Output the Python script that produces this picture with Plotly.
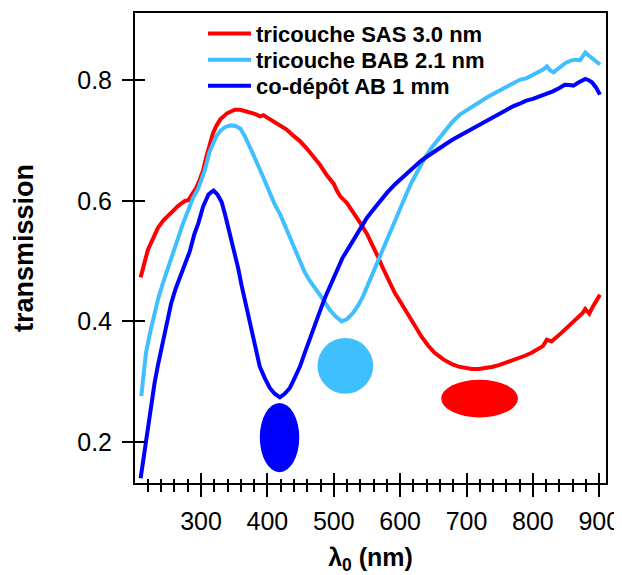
import plotly.graph_objects as go

# ---------------- data ----------------
series_names = ["tricouche SAS 3.0 nm", "tricouche BAB 2.1 nm", "co-dépôt AB 1 mm"]

nm_sas = [209, 215, 220, 228, 235, 243, 251, 258, 266, 271, 276, 281, 288, 293, 298, 303, 308, 313,
          318, 323, 329, 334, 339, 345, 351, 359, 366, 374, 381, 389, 394, 401, 409, 419, 429, 439,
          449, 459, 469, 479, 489, 500, 505, 510, 520, 530, 540, 550, 560, 567, 575, 584, 592, 600,
          607, 617, 625, 632, 642, 652, 665, 678, 688, 698, 708, 718, 728, 738, 750, 763, 775, 788,
          798, 808, 815, 821, 828, 838, 848, 858, 868, 875, 879, 885, 890, 894, 901]
t_sas = [0.473, 0.500, 0.519, 0.538, 0.555, 0.567, 0.576, 0.582, 0.592, 0.596, 0.600, 0.601, 0.613,
         0.622, 0.635, 0.650, 0.673, 0.693, 0.712, 0.724, 0.735, 0.740, 0.745, 0.748, 0.751, 0.751,
         0.749, 0.747, 0.744, 0.740, 0.742, 0.737, 0.732, 0.725, 0.718, 0.708, 0.699, 0.687, 0.674,
         0.660, 0.643, 0.628, 0.616, 0.607, 0.596, 0.580, 0.563, 0.545, 0.524, 0.506, 0.486, 0.466,
         0.447, 0.433, 0.420, 0.403, 0.388, 0.375, 0.360, 0.348, 0.337, 0.329, 0.325, 0.3227, 0.321,
         0.321, 0.322, 0.3244, 0.328, 0.3327, 0.338, 0.343, 0.348, 0.354, 0.359, 0.3697, 0.3668, 0.376,
         0.386, 0.395, 0.4056, 0.414, 0.4206, 0.4128, 0.424, 0.4305, 0.4443]

nm_bab = [210, 217, 224, 230, 235, 243, 251, 258, 266, 273, 281, 288, 296, 301, 306, 313, 318, 323,
          329, 336, 341, 346, 352, 359, 366, 374, 381, 389, 396, 404, 411, 419, 426, 434, 441, 449,
          456, 464, 474, 484, 494, 503, 512, 520, 529, 537, 544, 551, 558, 569, 577, 589, 597, 610,
          617, 630, 637, 647, 657, 667, 678, 690, 701, 713, 723, 733, 745, 758, 770, 781, 790, 798,
          806, 811, 816, 821, 826, 831, 840, 849, 856, 864, 871, 875, 879, 884, 889, 895, 901]
t_bab = [0.276, 0.348, 0.385, 0.412, 0.436, 0.465, 0.492, 0.515, 0.541, 0.563, 0.585, 0.605, 0.621,
         0.636, 0.652, 0.682, 0.695, 0.707, 0.716, 0.722, 0.724, 0.725, 0.724, 0.720, 0.707, 0.689,
         0.671, 0.651, 0.633, 0.611, 0.594, 0.578, 0.559, 0.539, 0.519, 0.500, 0.482, 0.467, 0.4526,
         0.436, 0.419, 0.408, 0.400, 0.404, 0.414, 0.427, 0.4415, 0.460, 0.480, 0.506, 0.527, 0.558,
         0.580, 0.613, 0.630, 0.657, 0.671, 0.6876, 0.702, 0.715, 0.730, 0.743, 0.751, 0.758, 0.766,
         0.773, 0.780, 0.787, 0.795, 0.801, 0.803, 0.8075, 0.812, 0.8146, 0.818, 0.823, 0.816, 0.813,
         0.821, 0.8285, 0.832, 0.834, 0.833, 0.840, 0.846, 0.841, 0.837, 0.831, 0.826]

nm_ab = [209, 215, 220, 225, 230, 235, 240, 247, 255, 262, 268, 275, 283, 290, 296, 303, 308, 311,
         315, 319, 325, 331, 336, 341, 346, 351, 356, 361, 366, 372, 377, 382, 388.5, 396, 403.6,
         411, 418.7, 426, 433.8, 441, 449, 456, 464, 471, 479, 487, 494, 504, 513, 522, 531, 540,
         550, 560, 570, 580, 592, 605, 617, 630, 640, 650, 660, 670, 680, 690, 700, 710, 720, 730,
         740, 750, 760, 770, 780, 790, 800, 810, 820, 830, 840, 848, 855, 861, 870, 879, 884, 889,
         895, 901]
t_ab = [0.140, 0.185, 0.226, 0.262, 0.298, 0.327, 0.353, 0.392, 0.430, 0.455, 0.472, 0.492, 0.516,
        0.545, 0.563, 0.590, 0.604, 0.610, 0.614, 0.617, 0.610, 0.598, 0.578, 0.557, 0.535, 0.513,
        0.488, 0.460, 0.435, 0.404, 0.377, 0.352, 0.325, 0.306, 0.2896, 0.280, 0.274, 0.280, 0.2896,
        0.306, 0.325, 0.347, 0.3697, 0.393, 0.4166, 0.440, 0.458, 0.4857, 0.505, 0.521, 0.538,
        0.554, 0.572, 0.586, 0.600, 0.613, 0.627, 0.640, 0.653, 0.665, 0.673, 0.681, 0.688, 0.695,
        0.702, 0.708, 0.715, 0.721, 0.727, 0.733, 0.738, 0.744, 0.750, 0.7566, 0.761, 0.766, 0.769,
        0.773, 0.777, 0.7814, 0.787, 0.7925, 0.792, 0.791, 0.797, 0.802, 0.800, 0.7965, 0.788, 0.776]

# colour spots (extent in nm and transmission units)
spot_x0 = [661.8, 475.3, 388.5]
spot_x1 = [777.4, 559.4, 448.0]
spot_y0 = [0.2408, 0.2800, 0.1500]
spot_y1 = [0.3033, 0.3725, 0.2647]

x_tick_vals = [300, 400, 500, 600, 700, 800, 900]
y_tick_vals = [0.2, 0.4, 0.6, 0.8]
x_range = [200.5, 910.1]
y_range = [0.132, 0.9114]

colors = ["#FF0000", "#40BFFF", "#0000FF"]

# ---------------- figure ----------------
FONT = "Liberation Sans, Arial, Helvetica, sans-serif"
fig = go.Figure()

xs = [nm_sas, nm_bab, nm_ab]
ys = [t_sas, t_bab, t_ab]
legend_ids = ["legend", "legend2", "legend3"]
for i in range(3):
    fig.add_trace(go.Scatter(x=xs[i], y=ys[i], mode="lines", name=series_names[i],
                             line=dict(color=colors[i], width=4), legend=legend_ids[i]))

# helper traces for the inner half of the crossing ticks (empty)
fig.add_trace(go.Scatter(x=[], y=[], xaxis="x2", yaxis="y", showlegend=False, hoverinfo="skip"))
fig.add_trace(go.Scatter(x=[], y=[], xaxis="x", yaxis="y2", showlegend=False, hoverinfo="skip"))

for i in range(3):
    fig.add_shape(type="circle", xref="x", yref="y", x0=spot_x0[i], x1=spot_x1[i],
                  y0=spot_y0[i], y1=spot_y1[i], fillcolor=colors[i], line=dict(width=0),
                  layer="above")

tickfont = dict(family=FONT, size=25, color="black")

# the page body has an 8px default margin, so the figure is 8px smaller than the window
fig.update_layout(
    width=614, height=567,
    margin=dict(l=127, r=16, t=5, b=92, autoexpand=False),
    paper_bgcolor="white", plot_bgcolor="white",
    xaxis=dict(range=x_range, tickvals=x_tick_vals, ticks="outside", ticklen=12, tickwidth=2,
               tickcolor="black", minor=dict(dtick=20, tick0=0, ticks="outside", ticklen=7,
                                             tickwidth=2, tickcolor="black", showgrid=False),
               showline=True, linewidth=2, linecolor="black", mirror=True, showgrid=False,
               zeroline=False, tickfont=tickfont, ticklabelstandoff=3, automargin=False,
               title=dict(text="λ<sub>0</sub> (nm)",
                          font=dict(family=FONT, size=25, color="black", weight="bold"),
                          standoff=15)),
    xaxis2=dict(range=x_range, overlaying="x", anchor="y", side="bottom", tickvals=x_tick_vals,
                ticks="inside", ticklen=10, tickwidth=2, tickcolor="black",
                minor=dict(dtick=20, tick0=0, ticks="inside", ticklen=4, tickwidth=2,
                           tickcolor="black", showgrid=False), automargin=False,
                showticklabels=False, showline=False, showgrid=False, zeroline=False),
    yaxis=dict(range=y_range, tickvals=y_tick_vals, ticktext=["0.2", "0.4", "0.6", "0.8"],
               ticks="outside", ticklen=11, tickwidth=2, tickcolor="black",
               showline=True, linewidth=2, linecolor="black", mirror=True, showgrid=False,
               zeroline=False, tickfont=tickfont, ticklabelstandoff=5, automargin=False,
               title=dict(text="transmission", font=dict(family=FONT, size=27, color="black",
                                                         weight="bold"), standoff=36)),
    yaxis2=dict(range=y_range, overlaying="y", anchor="x", side="left", tickvals=y_tick_vals,
                ticks="inside", ticklen=10, tickwidth=2, tickcolor="black", automargin=False,
                showticklabels=False, showline=False, showgrid=False, zeroline=False),
    showlegend=True,
)

leg_font = dict(family=FONT, size=22, color="black", weight="bold")
leg_y_px = [34, 60.2, 86.2]   # page pixel rows of the legend entries
for i, lid in enumerate(legend_ids):
    fig.update_layout({lid: dict(x=(203 - 135) / 471, y=(483.3 - leg_y_px[i]) / 470,
                                 xanchor="left", yanchor="middle",
                                 bgcolor="rgba(0,0,0,0)", borderwidth=0, font=leg_font,
                                 itemwidth=43)})

fig.write_html("out.html")
